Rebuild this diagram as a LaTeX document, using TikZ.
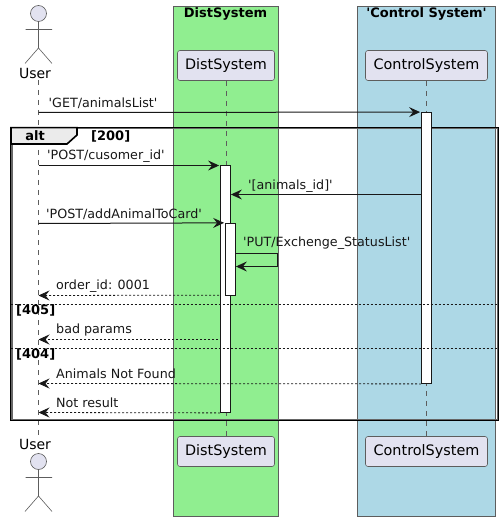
\documentclass[tikz,border=0pt]{standalone}
\usepackage{fontspec}
\newfontfamily\dv{DejaVu Sans}
\usetikzlibrary{arrows.meta}
\definecolor{pfill}{HTML}{E2E2F0}
\definecolor{ink}{HTML}{181818}
\definecolor{boxgreen}{HTML}{90EE90}
\definecolor{boxblue}{HTML}{ADD8E6}
\tikzset{
  x=1pt,y=-1pt,
  tip/.style={-{Stealth[length=11pt,width=10pt,inset=4pt]}},
  msg/.style={tip,draw=ink,line width=1pt},
  ret/.style={tip,draw=ink,line width=0.8pt,dash pattern=on 2pt off 2pt},
  life/.style={draw=ink!70,line width=0.6pt,dash pattern=on 5pt off 5pt},
  part/.style={draw=ink!70,line width=0.6pt,fill=pfill,rounded corners=2.5pt,minimum height=30pt,inner sep=0pt,font=\fontsize{14.4}{16}\selectfont},
  act/.style={draw=ink,line width=0.8pt,fill=white,minimum width=10pt,inner sep=0pt},
  band/.style={draw=ink!70,line width=0.6pt},
  lbl/.style={font=\fontsize{12.7}{15}\selectfont,anchor=west,inner sep=0pt,text=ink},
  boldlbl/.style={font=\fontsize{13}{15}\selectfont\bfseries,inner sep=0pt,text=black},
  stick/.style={draw=ink!70,line width=0.6pt},
}
\begin{document}
\begin{tikzpicture}
\dv
\useasboundingbox (0,0) rectangle (503,521);
\fill[white] (0,0) rectangle (503,521);
% boxes
\draw[band,fill=boxgreen] (173.5,6.5) rectangle (278.5,516);
\draw[band,fill=boxblue] (357.5,6.5) rectangle (495.5,516);
\node[boldlbl] (t1) at (225.5,13.5) {DistSystem};
\node[boldlbl] (t2) at (426.5,13.5) {'Control System'};
% participants
\node[part,minimum width=97pt] (dtop) at (226,65.5) {DistSystem};
\node[part,minimum width=122pt] (ctop) at (426.5,65.5) {ControlSystem};
\node[part,minimum width=97pt] (dbot) at (226,451.5) {DistSystem};
\node[part,minimum width=122pt] (cbot) at (426.5,451.5) {ControlSystem};
\node[font=\fontsize{14}{16}\selectfont,inner sep=0pt,text=black] (utop) at (35,73) {User};
\node[font=\fontsize{14}{16}\selectfont,inner sep=0pt,text=black] (ubot) at (35,444) {User};
% lifelines
\coordinate (ulifetop) at (38.5,80);
\coordinate (ulifebot) at (38.5,437);
\draw[life] (ulifetop) -- (ulifebot);
\draw[life] (dtop.south) -- (dbot.north);
\draw[life] (ctop.south) -- (cbot.north);
% actors
\draw[stick,fill=pfill] (38.5,13.5) circle (8);
\draw[stick] (38.5,21.5) -- (38.5,48) (25.5,29.5) -- (52,29.5) (25,63.5) -- (38.5,48) -- (52,63.5);
\draw[stick,fill=pfill] (38.5,461.5) circle (8);
\draw[stick] (38.5,469.5) -- (38.5,496) (25.5,477.5) -- (52,477.5) (25,511.5) -- (38.5,496) -- (52,511.5);
% frame
\draw[draw=black!60,line width=1.4pt] (11.8,128.5) rectangle (497.2,419.3);
\draw[draw=black,line width=1.4pt] (10.7,127.4) rectangle (498.3,420.4);
\draw[draw=black,line width=1.6pt,fill=black!8] (11,127.6) -- (77,127.6) -- (77,135) -- (67,144) -- (11,144) -- cycle;
\node[boldlbl] (altl) at (35,136) {alt};
\node[boldlbl,anchor=west] (g1) at (91,136) {[200]};
% activations
\node[act,minimum height=271pt] (actc) at (426.5,248) {};
\node[act,minimum height=247pt] (actd) at (225.5,289) {};
\node[act,minimum height=72.5pt] (acte) at (230.5,259.5) {};
\coordinate (s1a) at (10.5,304.5); \coordinate (s1b) at (497.5,304.5);
\coordinate (s2a) at (10.5,348.5); \coordinate (s2b) at (497.5,348.5);
\draw[ret,-] (s1a) -- (s1b);
\draw[ret,-] (s2a) -- (s2b);
\node[boldlbl,anchor=west] (g2) at (16,310.5) {[405]};
\node[boldlbl,anchor=west] (g3) at (16,354.5) {[404]};
% message ends on the user's lifeline
\foreach \n/\y in {a/112.5,b/165.5,c/223.5,d/295.5,e/339.5,f/383.5,g/412.5}
  \coordinate (u\n) at (38.5,\y);
\coordinate (ex1) at (277.5,253.5);
\coordinate (ex2) at (277.5,266.5);
% messages
\draw[msg,shorten >=1pt] (ua) -- (actc.north west);
\draw[msg,shorten >=1pt] (ub) -- (actd.west |- ub);
\draw[msg,shorten >=1pt] (uc) -- (acte.north west);
\draw[msg] (actc.west |- 0,194.5) -- (actd.east |- 0,194.5);
\draw[msg] (acte.east |- ex1) -- (ex1) -- (ex2) -- (acte.east |- ex2);
\draw[ret] (acte.south west) ++(-6,-1) coordinate (od) (od) -- (ud);
\draw[ret] (actd.west |- ue) ++(-2,0) coordinate (bp) (bp) -- (ue);
\draw[ret] (actc.south west) -- (uf);
\draw[ret] (actd.south west) -- (ug);
% labels
\node[lbl] (m1) at (48.5,103) {'GET/animalsList'};
\node[lbl] (m2) at (47,156) {'POST/cusomer\_id'};
\node[lbl] (m3) at (248,186) {'[animals\_id]'};
\node[lbl] (m4) at (46,214.5) {'POST/addAnimalToCard'};
\node[lbl] (m5) at (243,243.5) {'PUT/Exchenge\_StatusList'};
\node[lbl] (m6) at (56,286) {order\_id: 0001};
\node[lbl] (m7) at (56,330) {bad params};
\node[lbl] (m8) at (56,374) {Animals Not Found};
\node[lbl] (m9) at (56,402.5) {Not result};
\end{tikzpicture}
\end{document}
